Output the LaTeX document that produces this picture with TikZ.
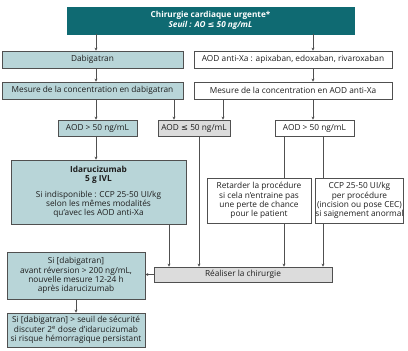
\documentclass[tikz,border=0pt]{standalone}
\usepackage{fontspec}
\setmainfont{Open Sans}
\newfontfamily\symfont{DejaVu Sans}
\usetikzlibrary{arrows.meta}
\definecolor{tealdark}{HTML}{0F6A72}
\definecolor{teallight}{HTML}{B8D5D8}
\definecolor{boxgray}{HTML}{DCDCDC}
\definecolor{linegray}{HTML}{505050}
\definecolor{inkgray}{HTML}{1E1E1E}
\newcommand{\lesym}{{\symfont ≤}}
\begin{document}
\begin{tikzpicture}[x=1pt,y=-1pt,
  font=\fontsize{8.3}{9.2}\selectfont,
  box/.style={draw=linegray, line width=0.75pt, inner sep=0pt, align=center, anchor=center, text=inkgray},
  tealbox/.style={box, fill=teallight},
  graybox/.style={box, fill=boxgray},
  whitebox/.style={box, fill=white},
  headbox/.style={box, draw=tealdark, fill=tealdark, text=white, font=\fontsize{8.2}{10}\selectfont\bfseries},
  link/.style={draw=linegray, line width=0.75pt},
  arrow/.style={link, -{Stealth[length=3pt,width=3pt]}}]
\useasboundingbox (0,0) rectangle (408,351);

% boxes
\node[headbox, minimum width=287pt, minimum height=27pt] (top) at (210.5,20.5)
  {Chirurgie cardiaque urgente*\\ \itshape Seuil : AO \lesym\ 50 ng/mL};
\node[tealbox, minimum width=181pt, minimum height=17pt] (dab) at (92.5,59.5) {Dabigatran};
\node[whitebox, minimum width=198pt, minimum height=17pt] (xa) at (293,59.5)
  {AOD anti-Xa : apixaban, edoxaban, rivaroxaban};
\node[tealbox, minimum width=181pt, minimum height=17pt] (mdab) at (92.5,90.5)
  {Mesure de la concentration en dabigatran};
\node[whitebox, minimum width=198pt, minimum height=17pt] (mxa) at (293,90.5)
  {Mesure de la concentration en AOD anti-Xa};
\node[tealbox, minimum width=79pt, minimum height=16pt] (gta) at (97.5,128) {AOD > 50 ng/mL};
\node[graybox, minimum width=72pt, minimum height=16pt] (le) at (194,128) {AOD \lesym\ 50 ng/mL};
\node[whitebox, minimum width=79pt, minimum height=16pt] (gtb) at (314.5,128) {AOD > 50 ng/mL};
\node[tealbox, minimum width=175pt, minimum height=64pt] (ida) at (98.5,192)
  {\textbf{Idarucizumab}\\ \textbf{5 g IVL}\\[6pt]
   Si indisponible : CCP 25-50 UI/kg\\ selon les mêmes modalités\\ qu’avec les AOD anti-Xa};
\node[whitebox, minimum width=104pt, minimum height=45pt] (ret) at (259,200.5)
  {Retarder la procédure\\ si cela n’entraine pas\\ une perte de chance\\ pour le patient};
\node[whitebox, minimum width=87pt, minimum height=45pt] (ccp) at (359.5,200.5)
  {CCP 25-50 UI/kg\\ per procédure\\ (incision ou pose CEC)\\ si saignement anormal};
\node[graybox, minimum width=178pt, minimum height=15pt] (real) at (243,274.5) {Réaliser la chirurgie};
\node[tealbox, minimum width=138pt, minimum height=47pt] (sid) at (76,275.5)
  {Si [dabigatran]\\ avant réversion > 200 ng/mL,\\ nouvelle mesure 12-24 h\\ après idarucizumab};
\node[tealbox, minimum width=138pt, minimum height=34pt] (last) at (76,330)
  {Si [dabigatran] > seuil de sécurité\\ discuter 2\textsuperscript{e} dose d’idarucizumab\\ si risque hémorragique persistant};

% connector columns
\coordinate (cA) at (96,0);
\coordinate (cB) at (313,0);
\coordinate (cC) at (174,0);
\coordinate (cD) at (223,0);
\coordinate (cE) at (284,0);
\coordinate (cF) at (323,0);
\coordinate (cG) at (169,0);
\coordinate (cH) at (199,0);
\coordinate (cI) at (76,0);

% connectors
\draw[arrow] (top.south -| cA) -- (dab.north -| cA);
\draw[arrow] (top.south -| cB) -- (xa.north -| cB);
\draw[arrow] (dab.south -| cA) -- (mdab.north -| cA);
\draw[arrow] (xa.south -| cB) -- (mxa.north -| cB);
\draw[arrow] (mdab.south -| cA) -- (gta.north -| cA);
\draw[arrow] (mdab.south -| cC) -- (le.north -| cC);
\draw[arrow] (mxa.south -| cD) -- (le.north -| cD);
\draw[arrow] (mxa.south -| cB) -- (gtb.north -| cB);
\draw[arrow] (gta.south -| cA) -- (ida.north -| cA);
\draw[link] (gtb.south -| cE) -- (ret.north -| cE);
\draw[link] (gtb.south -| cF) -- (ccp.north -| cF);
\draw[arrow] (ida.south -| cG) -- (real.north -| cG);
\draw[arrow] (le.south -| cH) -- (real.north -| cH);
\draw[arrow] (ret.south -| cE) -- (real.north -| cE);
\draw[arrow] (ccp.south -| cF) -- (real.north -| cF);
\draw[arrow] (real.west) -- (sid.east |- real.west);
\draw[arrow] (sid.south -| cI) -- (last.north -| cI);
\end{tikzpicture}
\end{document}
